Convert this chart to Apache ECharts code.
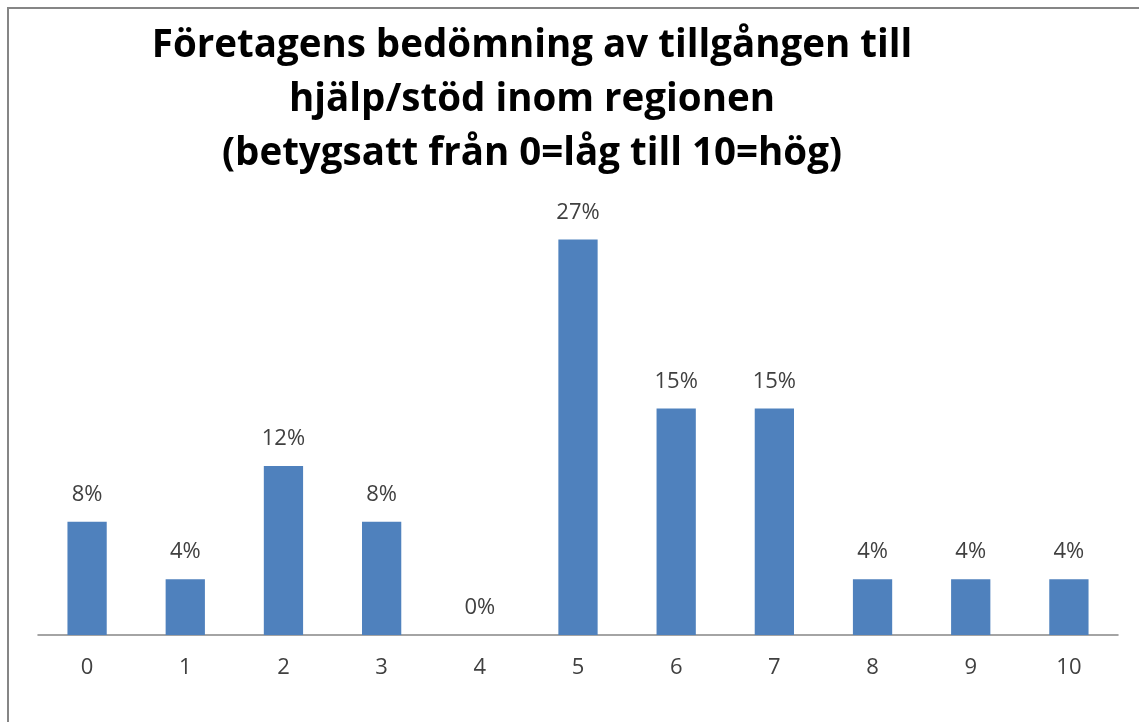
<!DOCTYPE html>
<html>
<head>
<meta charset="utf-8">
<script src="https://cdn.jsdelivr.net/npm/echarts@6/dist/echarts.min.js"></script>
<style>
  html, body { margin: 0; padding: 0; background: #fff; }
  #chart { width: 1139px; height: 722px; }
</style>
</head>
<body>
<div id="chart"></div>
<script>
// betyg 0..10
var categories = ['0', '1', '2', '3', '4', '5', '6', '7', '8', '9', '10']
// andel företag i procent (avläst)
var shares = [7.7, 3.8, 11.5, 7.7, 0, 26.9, 15.4, 15.4, 3.8, 3.8, 3.8]
var titleText = 'Företagens bedömning av tillgången till\nhjälp/stöd inom regionen\n(betygsatt från 0=låg till 10=hög)'

var chart = echarts.init(document.getElementById('chart'))
chart.setOption({
  animation: false,
  title: {
    text: titleText,
    left: 527,
    top: 14,
    textAlign: 'center',
    textStyle: {
      fontFamily: 'Open Sans',
      fontWeight: 'bold',
      fontSize: 38.5,
      lineHeight: 54,
      color: '#000'
    }
  },
  graphic: [{
    type: 'rect',
    shape: { x: 8, y: 8, width: 1140, height: 720 },
    style: { fill: 'none', stroke: '#868686', lineWidth: 2 }
  }],
  grid: {
    left: 38,
    right: 21,
    top: 194,
    bottom: 87
  },
  xAxis: {
    type: 'category',
    data: categories,
    axisTick: { show: false },
    axisLine: { lineStyle: { color: '#868686', width: 1.5 } },
    axisLabel: {
      margin: 22,
      fontFamily: 'Open Sans',
      fontSize: 22,
      color: '#404040'
    }
  },
  yAxis: {
    type: 'value',
    min: 0,
    max: 30,
    show: false
  },
  series: [{
    type: 'bar',
    data: shares,
    barWidth: '40%',
    itemStyle: { color: '#4f81bd' },
    label: {
      show: true,
      position: 'top',
      distance: 16,
      fontFamily: 'Open Sans',
      fontSize: 22,
      color: '#404040',
      formatter: function (p) {
        return Math.round(p.value) + '%'
      }
    }
  }]
})
</script>
</body>
</html>
